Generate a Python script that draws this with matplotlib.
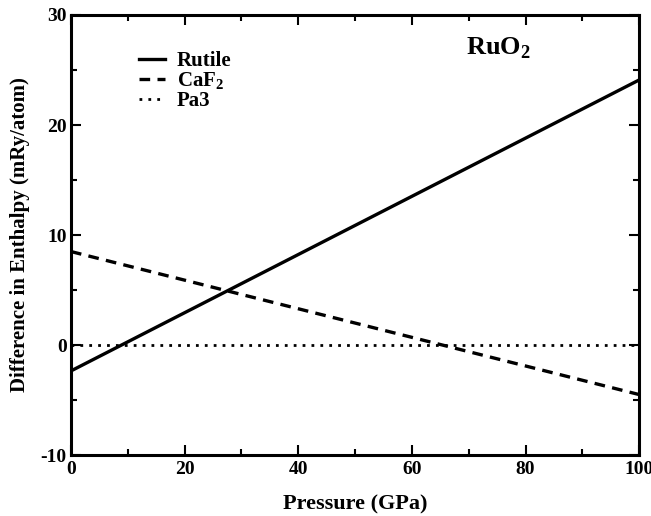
#!/usr/bin/env python3

import matplotlib
matplotlib.use("Agg")
import matplotlib.pyplot as plt
from matplotlib.ticker import MultipleLocator

#-------------------------------------------------------------
# data (enthalpy difference vs pressure, straight lines)
pressure = [0, 100]
rutile = [-2.35, 24.1]
caf2 = [8.5, -4.5]
pa3 = [0, 0]

labels = ["Rutile", r"CaF$_\mathbf{2}$", "Pa3"]

#-------------------------------------------------------------
def main():
    plt.rcParams["font.family"] = "Liberation Serif"
    plt.rcParams["font.weight"] = "bold"
    plt.rcParams["axes.unicode_minus"] = False
    plt.rcParams["mathtext.fontset"] = "custom"
    plt.rcParams["mathtext.rm"] = "Liberation Serif:bold"
    plt.rcParams["mathtext.bf"] = "Liberation Serif:bold"

    fig = plt.figure(figsize=(6.51, 5.16), dpi=100)
    ax = fig.add_axes([0.109, 0.118, 0.873, 0.853])

    ax.plot(pressure, rutile, color="black", lw=2.4, ls="-", label=labels[0])
    ax.plot(pressure, caf2, color="black", lw=2.4, ls=(0, (3.2, 2.2)), label=labels[1])
    ax.plot(pressure, pa3, color="black", lw=2.0, ls=(0, (1, 2.2)), label=labels[2])

    ax.set_xlim(0, 100)
    ax.set_ylim(-10, 30)
    ax.xaxis.set_major_locator(MultipleLocator(20))
    ax.xaxis.set_minor_locator(MultipleLocator(10))
    ax.yaxis.set_major_locator(MultipleLocator(10))
    ax.yaxis.set_minor_locator(MultipleLocator(5))
    ax.tick_params(which="both", direction="in", top=True, right=True,
                   width=1.5, labelsize=14)
    ax.tick_params(axis="x", which="major", pad=4)
    ax.tick_params(axis="y", which="major", pad=3)
    ax.tick_params(which="major", length=7)
    ax.tick_params(which="minor", length=4)
    for sp in ax.spines.values():
        sp.set_linewidth(2.2)

    ax.set_xlabel("Pressure (GPa)", fontsize=16, fontweight="bold", labelpad=12)
    ax.set_ylabel("Difference in Enthalpy (mRy/atom)", fontsize=15,
                  fontweight="bold", labelpad=8)

    ax.text(75.2, 27.0, r"RuO$_\mathbf{2}$", fontsize=19, fontweight="bold",
            ha="center", va="center")

    ax.legend(loc="upper left", bbox_to_anchor=(0.087, 0.96), frameon=False,
              handlelength=1.25, handletextpad=0.55, labelspacing=-0.05,
              prop={"size": 15, "weight": "bold"})

    fig.savefig("out.png", dpi=100)
    plt.close(fig)

#-------------------------------------------------------------
if __name__ == "__main__":
    main()
